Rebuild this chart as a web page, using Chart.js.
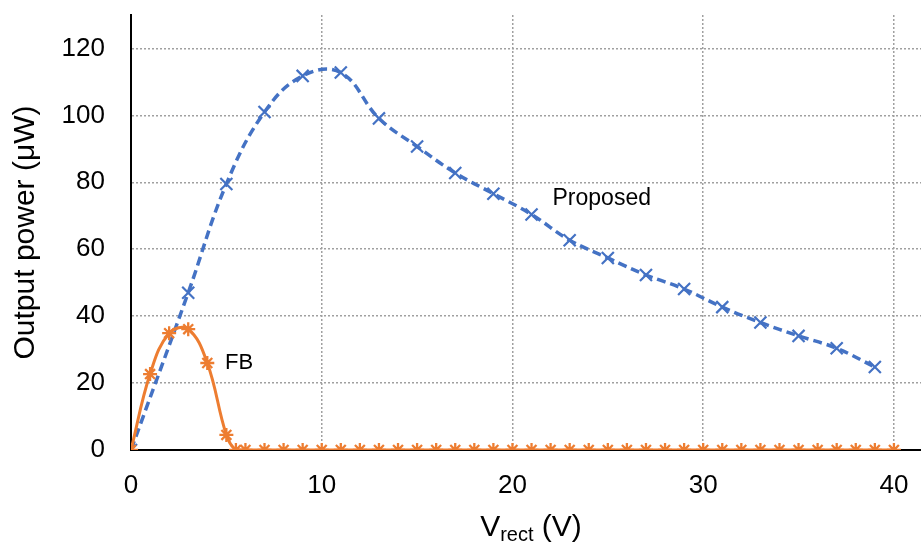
<!DOCTYPE html>
<html>
<head>
<meta charset="utf-8">
<script src="https://cdn.jsdelivr.net/npm/chart.js@4.4.1/dist/chart.umd.min.js"></script>
<style>
  html, body { margin: 0; padding: 0; background: #ffffff; }
  #wrap { width: 921px; height: 542px; position: relative; }
</style>
</head>
<body>
<div id="wrap"><canvas id="c" width="921" height="542"></canvas></div>
<script>
// ---- data ----
const proposedX = [0, 3, 5, 7, 9, 11, 13, 15, 17, 19, 21, 23, 25, 27, 29, 31, 33, 35, 37, 39];
const proposedY = [0, 47, 79.5, 101, 111.8, 112.8, 99.1, 90.7, 82.8, 76.6, 70.4, 62.7, 57.4, 52.3, 48.1, 42.7, 38.1, 34.1, 30.4, 24.8];

const fbX = [0, 1, 2, 3, 4, 5, 5.5, 6, 7, 8, 9, 10, 11, 12, 13, 14, 15, 16, 17, 18, 19, 20, 21, 22, 23, 24, 25, 26, 27, 28, 29, 30, 31, 32, 33, 34, 35, 36, 37, 38, 39, 40];
const fbY = [0, 22.7, 34.9, 36.1, 26, 4.5, 0, 0, 0, 0, 0, 0, 0, 0, 0, 0, 0, 0, 0, 0, 0, 0, 0, 0, 0, 0, 0, 0, 0, 0, 0, 0, 0, 0, 0, 0, 0, 0, 0, 0, 0, 0];

const xTicks = [0, 10, 20, 30, 40];
const yTicks = [0, 20, 40, 60, 80, 100, 120];

const seriesNames = ['Proposed', 'FB'];
const yTitle = 'Output power (μW)';
const xTitleMain = 'V';
const xTitleSub = 'rect';
const xTitleTail = ' (V)';
// label anchor positions in data units
const proposedLabelAt = { x: 22.1, y: 75.1 };
const fbLabelAt = { x: 4.93, y: 26 };

const FONT = '"Liberation Sans", Arial, sans-serif';
const BLUE = '#4472C4';
const ORANGE = '#ED7D31';

const toPts = (xs, ys) => xs.map((x, i) => ({ x: x, y: ys[i] }));

const annotate = {
  id: 'annotate',
  afterLayout(chart) {
    // let the plot area run to the right edge of the canvas
    const xs = chart.scales.x;
    const ca = chart.chartArea;
    const right = chart.width;
    ca.right = right; ca.width = right - ca.left;
    xs.right = right; xs.width = right - xs.left;
    xs.configure();
  },
  afterDatasetsDraw(chart) {
    const ctx = chart.ctx;
    const xs = chart.scales.x, ys = chart.scales.y;
    ctx.save();
    ctx.fillStyle = '#000';
    ctx.textBaseline = 'middle';
    ctx.textAlign = 'left';
    ctx.font = '23px ' + FONT;
    ctx.fillText(seriesNames[0], xs.getPixelForValue(proposedLabelAt.x), ys.getPixelForValue(proposedLabelAt.y));
    ctx.font = '22px ' + FONT;
    ctx.fillText(seriesNames[1], xs.getPixelForValue(fbLabelAt.x), ys.getPixelForValue(fbLabelAt.y));
    ctx.restore();
  },
  afterDraw(chart) {
    // x-axis title with subscript
    const ctx = chart.ctx;
    const big = '30px ' + FONT, small = '20px ' + FONT;
    ctx.save();
    ctx.fillStyle = '#000';
    ctx.textBaseline = 'alphabetic';
    ctx.textAlign = 'left';
    ctx.font = big; const w1 = ctx.measureText(xTitleMain).width;
    ctx.font = small; const w2 = ctx.measureText(xTitleSub).width;
    ctx.font = big; const w3 = ctx.measureText(xTitleTail).width;
    const total = w1 + w2 + w3;
    const cx = 531;
    let x = cx - total / 2;
    const base = 536;
    ctx.font = big; ctx.fillText(xTitleMain, x, base); x += w1;
    ctx.font = small; ctx.fillText(xTitleSub, x, base + 5); x += w2;
    ctx.font = big; ctx.fillText(xTitleTail, x, base);
    ctx.restore();
  }
};

function zeroPad(scale) {
  scale.paddingLeft = 0; scale.paddingRight = 0;
  scale.paddingTop = 0; scale.paddingBottom = 0;
}

new Chart(document.getElementById('c'), {
  type: 'line',
  data: {
    datasets: [
      {
        label: seriesNames[0],
        data: toPts(proposedX, proposedY),
        borderColor: BLUE,
        backgroundColor: BLUE,
        borderWidth: 3.5,
        borderDash: [9, 5],
        tension: 0.4,
        pointStyle: 'crossRot',
        pointRadius: 8.5,
        pointBorderWidth: 2.2,
        pointBorderColor: BLUE,
        fill: false,
        order: 2
      },
      {
        label: seriesNames[1],
        data: toPts(fbX, fbY),
        borderColor: ORANGE,
        backgroundColor: ORANGE,
        borderWidth: 3,
        tension: 0.4,
        pointStyle: 'star',
        pointRadius: 7,
        pointBorderWidth: 2.3,
        pointBorderColor: ORANGE,
        fill: false,
        order: 1
      }
    ]
  },
  options: {
    responsive: false,
    animation: false,
    events: [],
    layout: { padding: { top: 15, left: 0, right: 0, bottom: 0 } },
    plugins: {
      legend: { display: false },
      tooltip: { enabled: false },
      title: { display: false }
    },
    scales: {
      x: {
        type: 'linear',
        min: 0,
        max: 41.42,
        afterBuildTicks(scale) { scale.ticks = xTicks.map(v => ({ value: v })); },
        afterFit(scale) { scale.height = 92; zeroPad(scale); },
        ticks: {
          font: { family: FONT, size: 26 },
          color: '#000',
          padding: 20,
          maxRotation: 0,
          autoSkip: false
        },
        grid: { color: '#a0a0a0', lineWidth: 1.5, drawTicks: false },
        border: { display: true, color: '#000', width: 2, dash: [2, 2] },
        title: { display: false }
      },
      y: {
        type: 'linear',
        min: 0,
        max: 130,
        afterBuildTicks(scale) { scale.ticks = yTicks.map(v => ({ value: v })); },
        afterFit(scale) { scale.width = 131; zeroPad(scale); },
        ticks: {
          font: { family: FONT, size: 26 },
          color: '#000',
          padding: 26
        },
        grid: { color: '#a0a0a0', lineWidth: 1.5, drawTicks: false },
        border: { display: true, color: '#000', width: 2, dash: [2, 2] },
        title: {
          display: true,
          text: yTitle,
          color: '#000',
          font: { family: FONT, size: 30 },
          padding: { top: 8, bottom: 0 }
        }
      }
    }
  },
  plugins: [annotate]
});
</script>
</body>
</html>
